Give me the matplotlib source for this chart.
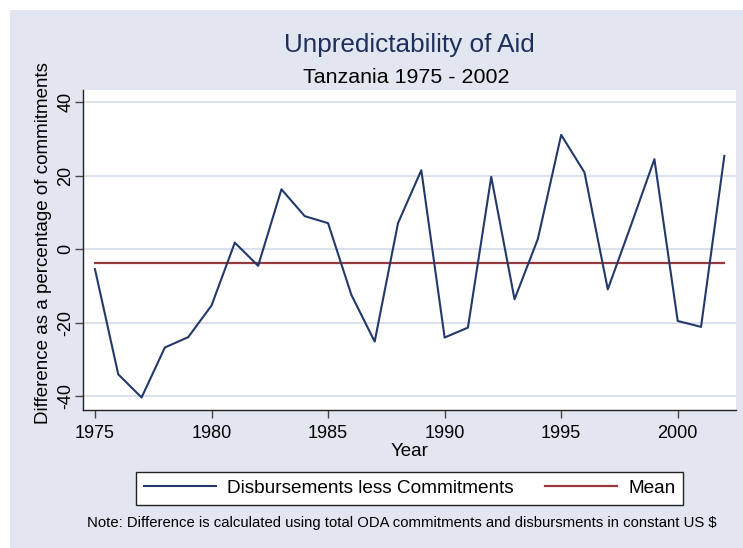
import numpy as np
import matplotlib
matplotlib.use("Agg")
from matplotlib import pyplot as plt
from matplotlib.patches import Rectangle

plt.rcParams['font.family'] = ['Liberation Sans', 'DejaVu Sans']
plt.rcParams['axes.unicode_minus'] = False

# data
years = list(range(1975, 2003))
diff_pct = [-5.4, -34.0, -40.3, -26.7, -23.9, -15.3, 1.8, -4.5, 16.3, 9.0,
            7.1, -12.4, -25.1, 7.1, 21.5, -24.0, -21.3, 19.7, -13.6, 2.8,
            31.1, 20.9, -10.9, 6.6, 24.5, -19.5, -21.1, 25.4]
mean_val = np.mean(diff_pct)
mean_line = [mean_val] * len(years)

yticks = [-40, -20, 0, 20, 40]
xticks = [1975, 1980, 1985, 1990, 1995, 2000]

W, H = 743, 548
bg = '#E1E6F0'
grid_c = '#DCE1EE'
navy = '#22396A'
maroon = '#953A3E'

fig = plt.figure(figsize=(W / 100, H / 100), dpi=100, facecolor='white')
# stata style outer background (picture is cropped, white strip top/left)
fig.patches.append(Rectangle((10 / W, 0), 1, 1 - 10 / H, transform=fig.transFigure,
                             facecolor=bg, edgecolor='none', zorder=-5))

ax = fig.add_axes([83.3 / W, 1 - 410 / H, (736 - 83.3) / W, (410 - 90) / H])
ax.set_facecolor('white')

l1, = ax.plot(years, diff_pct, color=navy, lw=1.5, label='Disbursements less Commitments', zorder=3)
l2, = ax.plot(years, mean_line, color=maroon, lw=1.6, label='Mean', zorder=2)

ax.set_xlim(1974.5, 2002.5)
ax.set_ylim(-43.7, 43.3)
ax.set_xticks(xticks)
ax.set_yticks(yticks)
ax.yaxis.grid(True, color=grid_c, lw=1.5)
ax.set_axisbelow(True)

for s in ['top', 'right']:
    ax.spines[s].set_visible(False)
for s in ['left', 'bottom']:
    ax.spines[s].set_color('#222222')
    ax.spines[s].set_linewidth(1.0)

ax.tick_params(axis='both', direction='out', length=6, width=1, color='#444444',
               labelsize=13, labelcolor='black', pad=5)
ax.tick_params(axis='y', pad=0.3)
for lab in ax.get_yticklabels():
    lab.set_rotation(90)
    lab.set_va('center')

fig.text(409 / W, 1 - 51.7 / H, 'Unpredictability of Aid', ha='center', va='baseline',
         fontsize=18.8, color='#1F2F5C')
fig.text(406 / W, 1 - 82.7 / H, 'Tanzania 1975 - 2002', ha='center', va='baseline',
         fontsize=15.4, color='black')
fig.text(44 / W, 1 - 243 / H, 'Difference as a percentage of commitments', rotation=90,
         ha='center', va='center', fontsize=13.5)
fig.text(410 / W, 1 - 456.5 / H, 'Year', ha='center', va='baseline', fontsize=13.5)

leg = fig.legend(handles=[l1, l2], loc='center', bbox_to_anchor=(409.7 / W, 1 - 488.4 / H),
                 ncol=2, fontsize=13.7, frameon=True, fancybox=False, edgecolor='#222222',
                 facecolor='white', framealpha=1, handlelength=3.8, handletextpad=0.57,
                 columnspacing=1.64, borderpad=0.4)
leg.get_frame().set_linewidth(1.0)

fig.text(402 / W, 1 - 527.3 / H,
         'Note: Difference is calculated using total ODA commitments and disbursments in constant US $',
         ha='center', va='baseline', fontsize=10.7)

fig.savefig('out.png', dpi=100, facecolor='white')
